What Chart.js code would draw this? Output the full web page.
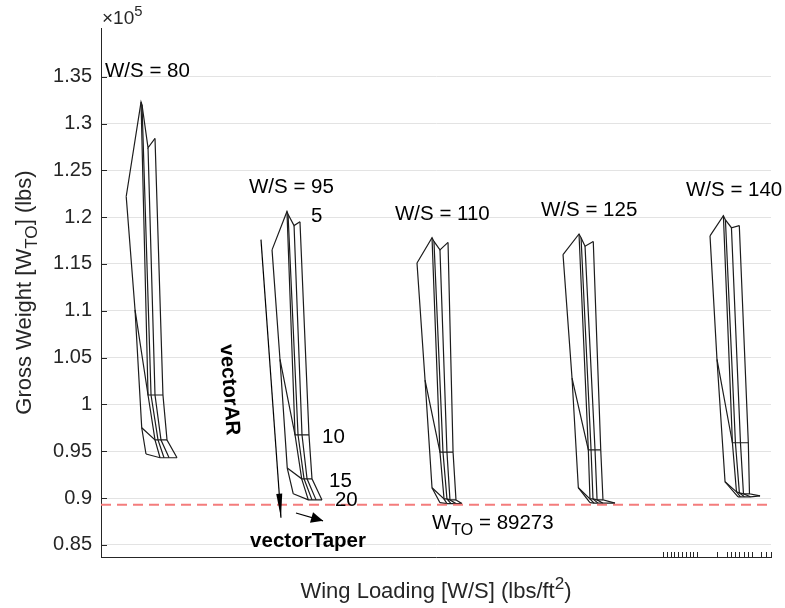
<!DOCTYPE html>
<html lang="en">
<head>
<meta charset="UTF-8">
<title>Carpet plot | Gross Weight vs Wing Loading</title>
<script src="https://cdn.jsdelivr.net/npm/chart.js@4"></script>
<style>
    html, body { margin: 0; padding: 0; background: #fff; }
    #carpet { display: block; }
</style>
</head>
<body>
<canvas id="carpet" width="785" height="608"></canvas>
<script>
    // carpet groups
    const wingLoadings = [80, 95, 110, 125, 140];
    const aspectRatios = [5, 10, 15, 20];

    // carpet x for each taper line (rows), columns = AR 5, 10, 15, 20
    const ws80X = [
        [80.00, 80.91, 81.60, 82.04],
        [81.53, 82.25, 82.97, 83.49],
        [81.63, 82.56, 83.28, 83.90],
        [82.25, 82.97, 83.59, 84.42],
        [82.97, 83.79, 84.21, 85.24]
    ];
    const ws80W = [
        [122200, 110100, 97500, 94700],
        [132300, 101000, 96200, 94300],
        [132000, 101000, 96200, 94300],
        [127400, 101000, 96200, 94300],
        [128400, 101000, 96200, 94300]
    ];

    const ws95X = [
        [95.04, 95.86, 96.61, 97.23],
        [96.58, 97.41, 98.10, 98.78],
        [96.69, 97.72, 98.34, 99.16],
        [97.31, 98.13, 98.65, 99.58],
        [97.92, 98.85, 99.16, 100.19]
    ];
    const ws95W = [
        [116500, 104800, 93200, 90450],
        [120600, 96750, 92050, 89800],
        [120300, 96750, 92050, 89800],
        [119100, 96750, 92050, 89800],
        [119500, 96750, 92050, 89800]
    ];

    const ws110X = [
        [109.99, 110.82, 111.54, 112.36],
        [111.54, 112.36, 112.78, 113.08],
        [111.74, 112.67, 113.08, 113.50],
        [112.36, 113.08, 113.39, 114.01],
        [113.19, 113.71, 114.01, 114.63]
    ];
    const ws110W = [
        [115100, 102600, 91100, 89500],
        [117800, 94900, 89900, 89400],
        [117400, 94900, 89900, 89400],
        [116500, 94900, 89800, 89400],
        [117300, 94900, 89800, 89400]
    ];

    const ws125X = [
        [125.05, 125.98, 126.63, 127.83],
        [126.70, 127.66, 127.83, 128.25],
        [126.91, 127.94, 128.14, 128.66],
        [127.32, 128.35, 128.56, 129.17],
        [128.17, 128.94, 129.17, 130.41]
    ];
    const ws125W = [
        [116000, 102800, 91100, 89500],
        [118200, 95150, 89900, 89450],
        [117800, 95150, 89900, 89450],
        [116900, 95150, 89800, 89450],
        [117400, 95150, 89800, 89450]
    ];

    const ws140X = [
        [140.21, 140.93, 141.76, 143.10],
        [141.59, 142.52, 142.94, 143.35],
        [141.80, 142.83, 143.24, 143.76],
        [142.42, 143.35, 143.66, 144.38],
        [143.23, 144.16, 144.28, 145.37]
    ];
    const ws140W = [
        [118000, 104800, 91730, 90130],
        [120150, 95900, 90660, 90130],
        [119700, 95900, 90550, 90130],
        [118870, 95900, 90450, 90130],
        [119100, 95900, 90450, 90230]
    ];

    const wto = 89273;
    const yTicks = [85000, 90000, 95000, 100000, 105000, 110000, 115000, 120000, 125000, 130000, 135000];
    const xMinorTicks = [135.36, 135.77, 136.18, 136.49, 136.90, 137.32, 137.73, 138.14, 138.45, 138.86,
        140.93, 141.96, 142.37, 142.79, 143.20, 143.71, 144.13, 144.54, 145.47, 145.98, 146.50];

    // direction vectors
    const vectorAR = [{ x: 93.90, y: 117600 }, { x: 95.96, y: 87900 }];
    const vectorTaper = [{ x: 97.51, y: 88400 }, { x: 100.30, y: 87560 }];

    const xMin = 77.4, xMax = 146.5;
    const yMin = 83700, yMax = 140200;

    const FONT = '"Liberation Sans", Arial, Helvetica, sans-serif';

    // text annotations (data coordinates, y = middle of the caps)
    const notes = [
        { segs: [['W/S = 80']], x: 77.81, y: 135750 },
        { segs: [['W/S = 95']], x: 92.66, y: 123350 },
        { segs: [['W/S = 110']], x: 107.72, y: 120470 },
        { segs: [['W/S = 125']], x: 122.78, y: 120900 },
        { segs: [['W/S = 140']], x: 137.73, y: 123030 },
        { segs: [['5']], x: 99.06, y: 120260 },
        { segs: [['10']], x: 100.19, y: 96640 },
        { segs: [['15']], x: 100.92, y: 91940 },
        { segs: [['20']], x: 101.53, y: 89910 },
        { segs: [['W'], ['TO', 'sub'], [' = 89273']], x: 111.54, y: 87456 },
        { segs: [['vectorAR']], x: 90.81, y: 101560, bold: true, rot: 86, align: 'center' },
        { segs: [['vectorTaper']], x: 98.75, y: 85530, bold: true, align: 'center' }
    ];

    function segFont(size, mode, bold) {
        const s = mode ? size * 0.78 : size;
        return (bold ? 'bold ' : '') + s + 'px ' + FONT;
    }

    function richWidth(ctx, segs, size, bold) {
        let w = 0;
        segs.forEach(s => { ctx.font = segFont(size, s[1], bold); w += ctx.measureText(s[0]).width; });
        return w;
    }

    // draws text with sub/superscripts, y is the baseline
    function drawRich(ctx, segs, x, y, size, bold, align) {
        let cx = x;
        if (align === 'center') cx -= richWidth(ctx, segs, size, bold) / 2;
        ctx.textAlign = 'left';
        ctx.textBaseline = 'alphabetic';
        segs.forEach(s => {
            ctx.font = segFont(size, s[1], bold);
            let dy = 0;
            if (s[1] === 'sub') dy = size * 0.28;
            if (s[1] === 'sup') dy = -size * 0.42;
            ctx.fillText(s[0], cx, y + dy);
            cx += ctx.measureText(s[0]).width;
        });
    }

    function arrowHead(ctx, xs, ys, pts, len, half) {
        const x0 = xs.getPixelForValue(pts[0].x), y0 = ys.getPixelForValue(pts[0].y);
        const x1 = xs.getPixelForValue(pts[1].x), y1 = ys.getPixelForValue(pts[1].y);
        const a = Math.atan2(y1 - y0, x1 - x0);
        const bx = x1 - Math.cos(a) * len, by = y1 - Math.sin(a) * len;
        ctx.beginPath();
        ctx.moveTo(x1, y1);
        ctx.lineTo(bx + Math.sin(a) * half, by - Math.cos(a) * half);
        ctx.lineTo(bx - Math.sin(a) * half, by + Math.cos(a) * half);
        ctx.closePath();
        ctx.fillStyle = '#000';
        ctx.fill();
    }

    const decorations = {
        id: 'decorations',
        afterDraw(chart) {
            const ctx = chart.ctx;
            const xs = chart.scales.x, ys = chart.scales.y;
            const area = chart.chartArea;
            ctx.save();

            // inside tick marks
            ctx.strokeStyle = '#262626';
            ctx.lineWidth = 1;
            ctx.beginPath();
            yTicks.forEach(v => {
                const py = Math.round(ys.getPixelForValue(v)) + 0.5;
                ctx.moveTo(area.left, py);
                ctx.lineTo(area.left + 6, py);
            });
            xMinorTicks.forEach(v => {
                const px = Math.round(xs.getPixelForValue(v)) + 0.5;
                ctx.moveTo(px, area.bottom);
                ctx.lineTo(px, area.bottom - 5);
            });
            ctx.stroke();

            arrowHead(ctx, xs, ys, vectorAR, 24, 3);
            arrowHead(ctx, xs, ys, vectorTaper, 12, 5.5);

            // annotations
            ctx.fillStyle = '#000';
            notes.forEach(n => {
                const size = 20.5;
                const px = xs.getPixelForValue(n.x), py = ys.getPixelForValue(n.y);
                ctx.save();
                ctx.translate(px, py);
                if (n.rot) ctx.rotate(n.rot * Math.PI / 180);
                drawRich(ctx, n.segs, 0, size * 0.36, size, n.bold, n.align);
                ctx.restore();
            });

            // exponent label
            ctx.fillStyle = '#262626';
            drawRich(ctx, [['\u00d710'], ['5', 'sup']], area.left + 1, area.top - 4, 19, false, 'left');

            // axis titles
            const midY = (area.top + area.bottom) / 2;
            const midX = (area.left + area.right) / 2;
            drawRich(ctx, [['Wing Loading [W/S] (lbs/ft'], ['2', 'sup'], [')']], midX, 598, 22, false, 'center');
            ctx.translate(31, midY);
            ctx.rotate(-Math.PI / 2);
            drawRich(ctx, [['Gross Weight [W'], ['TO', 'sub'], ['] (lbs)']], 0, 0, 22, false, 'center');
            ctx.restore();
        }
    };

    const carpetX = [ws80X, ws95X, ws110X, ws125X, ws140X];
    const carpetW = [ws80W, ws95W, ws110W, ws125W, ws140W];

    const lineStyle = {
        borderColor: '#1c1c1c',
        borderWidth: 1.2,
        pointRadius: 0,
        showLine: true,
        fill: false,
        tension: 0
    };

    const datasets = [];
    carpetX.forEach((gx, g) => {
        const gw = carpetW[g];
        // constant taper lines
        gx.forEach((row, t) => {
            datasets.push({
                label: `W/S ${wingLoadings[g]} taper ${t + 1}`,
                data: row.map((x, a) => ({ x: x, y: gw[t][a] })),
                ...lineStyle
            });
        });
        // constant AR lines
        aspectRatios.forEach((ar, a) => {
            datasets.push({
                label: `W/S ${wingLoadings[g]} AR ${ar}`,
                data: gx.map((row, t) => ({ x: row[a], y: gw[t][a] })),
                ...lineStyle
            });
        });
    });
    datasets.push({ label: 'vectorAR', data: vectorAR, ...lineStyle, borderColor: '#000' });
    datasets.push({ label: 'vectorTaper', data: vectorTaper, ...lineStyle, borderColor: '#000' });
    datasets.push({
        label: 'W_TO',
        data: [{ x: xMin, y: wto }, { x: xMax, y: wto }],
        borderColor: '#f47c7c',
        borderWidth: 2,
        borderDash: [10, 6],
        pointRadius: 0,
        showLine: true,
        order: -1
    });

    new Chart(document.getElementById('carpet'), {
        type: 'scatter',
        data: { datasets: datasets },
        options: {
            responsive: false,
            animation: false,
            layout: { padding: { top: 28, right: 14, left: 0, bottom: 0 } },
            plugins: {
                legend: { display: false },
                tooltip: { enabled: false }
            },
            scales: {
                x: {
                    type: 'linear',
                    min: xMin,
                    max: xMax,
                    grid: { display: false },
                    border: { display: true, color: '#262626', width: 1 },
                    ticks: { display: false },
                    afterFit: s => { s.height = 51; }
                },
                y: {
                    type: 'linear',
                    min: yMin,
                    max: yMax,
                    afterBuildTicks: s => { s.ticks = yTicks.map(v => ({ value: v })); },
                    afterFit: s => { s.width = 101; },
                    grid: { color: '#e3e3e3', drawTicks: false },
                    border: { display: true, color: '#262626', width: 1 },
                    ticks: {
                        padding: 9,
                        color: '#262626',
                        font: { size: 20, family: FONT },
                        callback: v => parseFloat((v / 1e5).toFixed(2)).toString()
                    }
                }
            }
        },
        plugins: [decorations]
    });
</script>
</body>
</html>
